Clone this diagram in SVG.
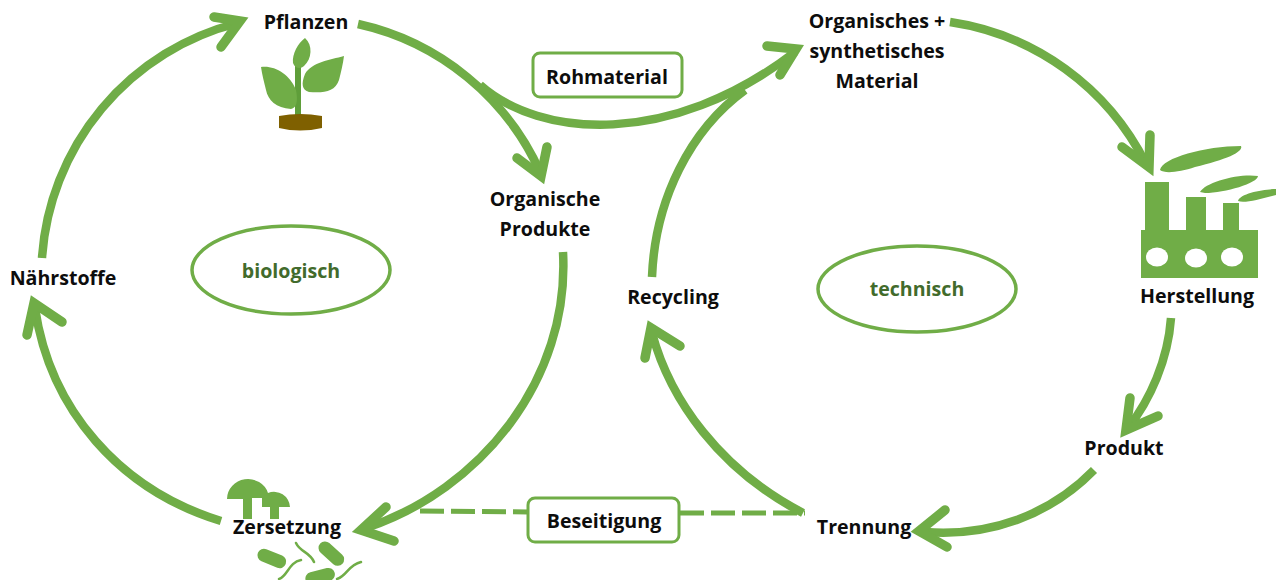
<svg xmlns="http://www.w3.org/2000/svg" width="1276" height="580" viewBox="0 0 1276 580">
<style>
text{font-family:"Open Sans","Liberation Sans",sans-serif;font-weight:700;font-size:19.6px;fill:#0d0d0d;text-anchor:middle}
.lab{fill:#426b2c;font-size:19.6px}
.c{fill:none;stroke:#70ad47;stroke-width:8.5}
.h{fill:none;stroke:#70ad47;stroke-width:9.5;stroke-linecap:round;stroke-linejoin:miter;stroke-miterlimit:10}
.box{fill:#fff;stroke:#70ad47;stroke-width:3}
.g{fill:#70ad47}
.t{fill:none;stroke:#70ad47;stroke-width:2.5;stroke-linecap:round}
</style>
<rect width="1276" height="580" fill="#fff"/>
<g id="connectors">
<path class="c" d="M42 258A260 260 0 0 1 238 23"/><path class="h" d="M214 17L240 21L221 47"/>
<path class="c" d="M358 24A262 262 0 0 1 541 174"/><path class="h" d="M517 158L541 176L547 147"/>
<path class="c" d="M480 85C540 138 670 148 795 52"/><path class="h" d="M767 46L796 49L780 75"/>
<path class="c" d="M652 277C655 200 690 130 745 90"/>
<path class="c" d="M950 22A262 262 0 0 1 1146 164"/><path class="h" d="M1122 147L1149 167L1150 135"/>
<path class="c" d="M1171 318C1168 360 1150 400 1128 428"/><path class="h" d="M1130 398L1126 430L1158 416"/>
<path class="c" d="M1094 470C1050 515 990 537 925 532"/><path class="h" d="M945 510L919 531L947 547"/>
<path class="c" d="M803 513C720 470 670 400 652 333"/><path class="h" d="M645 358L651 328L680 346"/>
<path class="c" d="M563 252C570 380 480 490 366 528"/><path class="h" d="M386 507L361 530L394 541"/>
<path class="c" d="M221 521C120 490 50 410 35 308"/><path class="h" d="M27 335L34 303L62 322"/>
<path d="M420 511L528 512M680 513L805 513" fill="none" stroke="#70ad47" stroke-width="5" stroke-dasharray="24 7"/>
</g>
<g id="pflanzen">
<text x="306" y="29">Pflanzen</text>
<path d="M298 115V66" stroke="#5f9e3a" stroke-width="6" fill="none"/>
<path class="g" d="M305 38C298 43 292 54 293 63C295 69 301 69 304 66C312 59 313 45 305 38Z"/>
<path class="g" d="M261 67C274 65 290 74 296 90C298 100 297 108 291 109C276 108 268 100 266 90C264 82 262 74 261 67Z"/>
<path class="g" d="M344 56C330 60 312 62 305 74C301 84 302 90 309 92C324 93 335 92 339 80C341 72 343 64 344 56Z"/>
<path d="M279 116Q300 112 322 116V128Q300 133 279 128Z" fill="#7f6000"/>
</g>
<g id="organisches-material">
<text x="877" y="28">Organisches +</text><text x="877" y="58">synthetisches</text><text x="877" y="88">Material</text>
</g>
<g id="herstellung">
<path class="g" d="M1160 170C1162 158 1205 146 1241 146C1244 152 1225 160 1195 167C1180 172 1165 174 1160 170Z"/>
<path class="g" d="M1200 192C1205 182 1240 173 1258 176C1258 183 1225 193 1205 193Z"/>
<path class="g" d="M1238 201C1240 193 1265 189 1276 189V195C1262 198 1245 204 1238 201Z"/>
<path class="g" d="M1145 182H1169V230H1186V197H1206V230H1223V203H1239V230H1258V278H1141V230H1145Z"/>
<ellipse cx="1157" cy="257" rx="11" ry="9.5" fill="#fff"/><ellipse cx="1196" cy="258" rx="11" ry="9.5" fill="#fff"/><ellipse cx="1232" cy="257" rx="11" ry="9.5" fill="#fff"/>
<text x="1197" y="303">Herstellung</text>
</g>
<g id="produkt"><text x="1124" y="455">Produkt</text></g>
<g id="trennung"><text x="864" y="534">Trennung</text></g>
<g id="recycling"><text x="673" y="304">Recycling</text></g>
<g id="organische-produkte"><text x="545" y="206">Organische</text><text x="545" y="236">Produkte</text></g>
<g id="naehrstoffe"><text x="63" y="285">Nährstoffe</text></g>
<g id="zersetzung">
<path class="g" d="M227 499A21 20 0 0 1 268 493A16 16 0 0 1 290 507H279V519H270V507H262V498H252V519H243V499Z"/>
<text x="287" y="534">Zersetzung</text>
<g class="g"><rect x="257" y="552" width="30" height="13" rx="6.5" transform="rotate(22 272 558)"/><rect x="316" y="547" width="30" height="13" rx="6.5" transform="rotate(42 331 554)"/><rect x="305" y="570" width="30" height="13" rx="6.5" transform="rotate(-14 320 576)"/></g>
<path class="t" d="M279 579C287 577 289 562 301 560M296 543C300 552 310 552 314 562M337 579C347 576 348 565 361 562"/>
</g>
<g id="rohmaterial"><rect class="box" x="533" y="53" width="149" height="44" rx="7"/><text x="607" y="84">Rohmaterial</text></g>
<g id="beseitigung"><rect class="box" x="528" y="498" width="151" height="44" rx="7"/><text x="604" y="528">Beseitigung</text></g>
<g id="biologisch"><ellipse cx="291" cy="270" rx="99" ry="44" fill="#fff" stroke="#70ad47" stroke-width="3.5"/><text class="lab" x="291" y="278">biologisch</text></g>
<g id="technisch"><ellipse cx="917" cy="289" rx="99" ry="43" fill="#fff" stroke="#70ad47" stroke-width="3.5"/><text class="lab" x="917" y="296">technisch</text></g>
</svg>
